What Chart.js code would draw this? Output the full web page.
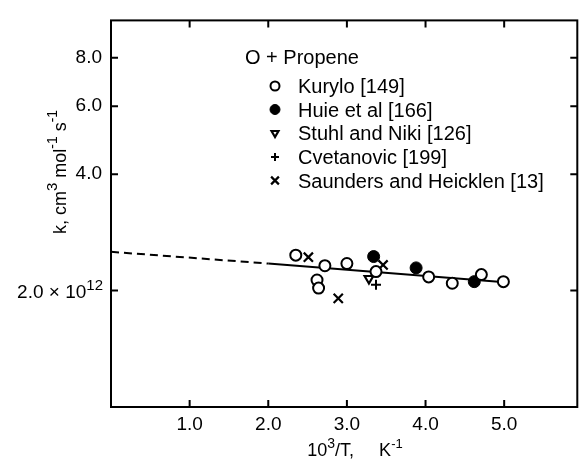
<!DOCTYPE html>
<html>
<head>
<meta charset="utf-8">
<script src="https://cdn.jsdelivr.net/npm/chart.js@4.4.0/dist/chart.umd.min.js"></script>
<style>
  html, body { margin: 0; padding: 0; background: #fff; }
  #wrap { width: 586px; height: 461px; }
</style>
</head>
<body>
<div id="wrap"><canvas id="rateChart" width="586" height="461"></canvas></div>
<script>
// O + propene rate constants: x = 10^3/T (K^-1), k in units of 10^12 cm^3 mol^-1 s^-1
const kuryloX = [2.35, 2.72, 3.00, 2.62, 2.64, 3.37, 4.04, 4.34, 4.71, 4.99];
const kuryloK = [2.47, 2.32, 2.35, 2.13, 2.03, 2.24, 2.17, 2.09, 2.20, 2.11];
const huieX = [3.34, 3.88, 4.62];
const huieK = [2.45, 2.29, 2.11];
const stuhlX = [3.28];
const stuhlK = [2.15];
const cvetX = [3.37];
const cvetK = [2.07];
const saundersX = [2.51, 2.89, 3.46];
const saundersK = [2.44, 1.91, 2.33];

// Arrhenius fit: dashed extrapolation below 2.0, solid over the data
const fitX = [0, 2.0, 5.05];
const fitK = [2.52, 2.35, 2.10];

const xTicks = [1, 2, 3, 4, 5];
const yTicks = [2, 4, 6, 8];
const xMin = 0, xMax = 5.93;
const yMin = 1, yMax = 10;

const FONT = "'Liberation Sans', Arial, sans-serif";

const pts = (xs, ks) => xs.map((v, i) => ({ x: v, y: ks[i] }));

const sources = [
  { label: 'Kurylo [149]', data: pts(kuryloX, kuryloK), pointStyle: 'circle', pointRadius: 5.5,
    pointBorderWidth: 2, pointBackgroundColor: '#fff' },
  { label: 'Huie et al [166]', data: pts(huieX, huieK), pointStyle: 'circle', pointRadius: 6,
    pointBorderWidth: 1, pointBackgroundColor: '#000' },
  { label: 'Stuhl and Niki [126]', data: pts(stuhlX, stuhlK), pointStyle: 'triangle', pointRadius: 5,
    pointRotation: 180, pointBorderWidth: 2.2, pointBackgroundColor: '#fff' },
  { label: 'Cvetanovic [199]', data: pts(cvetX, cvetK), pointStyle: 'cross', pointRadius: 5,
    pointBorderWidth: 2, pointBackgroundColor: '#000' },
  { label: 'Saunders and Heicklen [13]', data: pts(saundersX, saundersK), pointStyle: 'crossRot', pointRadius: 6.5,
    pointBorderWidth: 2.2, pointBackgroundColor: '#000' }
];

sources.forEach(s => {
  s.showLine = false;
  s.borderColor = '#000';
  s.pointBorderColor = '#000';
  s.order = 0;
});

const fitLines = [
  { label: 'fit (extrapolated)', data: pts(fitX.slice(0, 2), fitK.slice(0, 2)), showLine: true,
    borderColor: '#000', borderWidth: 2, borderDash: [8, 5], pointRadius: 0, order: 10 },
  { label: 'fit', data: pts(fitX.slice(1), fitK.slice(1)), showLine: true,
    borderColor: '#000', borderWidth: 2, pointRadius: 0, order: 10 }
];

// lay out a line of text made of runs with their own size and baseline shift
function drawRuns(ctx, runs, x, baseline, align) {
  let total = 0;
  runs.forEach(r => {
    ctx.font = r.s + 'px ' + FONT;
    r.w = ctx.measureText(r.t).width;
    total += r.w;
  });
  if (align === 'right') x -= total;
  else if (align !== 'left') x -= total / 2;
  ctx.textAlign = 'left';
  ctx.textBaseline = 'alphabetic';
  runs.forEach(r => {
    ctx.font = r.s + 'px ' + FONT;
    ctx.fillText(r.t, x, baseline + (r.dy || 0));
    x += r.w;
  });
}

// box round the plot with inward tick marks on all four sides
const frameTicks = {
  id: 'frameTicks',
  beforeDatasetsDraw(chart) {
    const { ctx, chartArea: a, scales: { x, y } } = chart;
    const len = 7;
    ctx.save();
    ctx.strokeStyle = '#000';
    ctx.lineWidth = 2;
    ctx.strokeRect(a.left, a.top, a.right - a.left, a.bottom - a.top);
    ctx.beginPath();
    xTicks.forEach(v => {
      const px = x.getPixelForValue(v);
      ctx.moveTo(px, a.bottom); ctx.lineTo(px, a.bottom - len);
      ctx.moveTo(px, a.top); ctx.lineTo(px, a.top + len);
    });
    yTicks.forEach(v => {
      const py = y.getPixelForValue(v);
      ctx.moveTo(a.left, py); ctx.lineTo(a.left + len, py);
      ctx.moveTo(a.right, py); ctx.lineTo(a.right - len, py);
    });
    ctx.stroke();
    ctx.restore();
  }
};

// axis titles, the 2.0 x 10^12 tick label and the key inside the plot
const labels = {
  id: 'labels',
  afterDraw(chart) {
    const { ctx, chartArea: a, scales: { y } } = chart;
    ctx.save();
    ctx.fillStyle = '#000';

    drawRuns(ctx, [
      { t: '2.0 \u00d7 10', s: 19 }, { t: '12', s: 15, dy: -8 }
    ], a.left - 8, y.getPixelForValue(2) + 7, 'right');

    drawRuns(ctx, [
      { t: '10', s: 18 }, { t: '3', s: 14, dy: -8 }, { t: '/T,     K', s: 18 }, { t: '-1', s: 13, dy: -8 }
    ], 355, 456);

    ctx.translate(66, 172);
    ctx.rotate(-Math.PI / 2);
    drawRuns(ctx, [
      { t: 'k, cm', s: 18 }, { t: '3', s: 15, dy: -9 }, { t: ' mol', s: 18 }, { t: '-1', s: 14, dy: -9 },
      { t: ' s', s: 18 }, { t: '-1', s: 14, dy: -9 }
    ], 0, 0);
    ctx.setTransform(1, 0, 0, 1, 0, 0);

    ctx.font = '20px ' + FONT;
    ctx.textAlign = 'left';
    ctx.textBaseline = 'alphabetic';
    ctx.fillText('O + Propene', 245, 64);

    const rowY = [86, 109.5, 133, 157, 180.5];
    sources.forEach((s, i) => {
      ctx.fillStyle = s.pointBackgroundColor;
      ctx.strokeStyle = '#000';
      ctx.lineWidth = s.pointBorderWidth;
      Chart.helpers.drawPoint(ctx, {
        pointStyle: s.pointStyle,
        radius: s.pointRadius - 1,
        rotation: s.pointRotation || 0,
        borderWidth: s.pointBorderWidth
      }, 275, rowY[i]);
      ctx.fillStyle = '#000';
      ctx.font = '20px ' + FONT;
      ctx.fillText(s.label, 298, rowY[i] + 7);
    });
    ctx.restore();
  }
};

new Chart(document.getElementById('rateChart'), {
  type: 'scatter',
  data: { datasets: [...fitLines, ...sources] },
  options: {
    responsive: false,
    animation: false,
    layout: { padding: { top: 13, right: 3, left: 0, bottom: 0 } },
    plugins: { legend: { display: false }, tooltip: { enabled: false } },
    scales: {
      x: {
        type: 'linear',
        min: xMin,
        max: xMax,
        grid: { display: false, drawTicks: false },
        border: { display: false },
        afterFit: s => { s.height = 54; },
        afterBuildTicks: s => { s.ticks = xTicks.map(v => ({ value: v })); },
        ticks: {
          padding: 6,
          color: '#000',
          font: { family: FONT, size: 19 },
          callback: v => v.toFixed(1)
        }
      },
      y: {
        type: 'logarithmic',
        min: yMin,
        max: yMax,
        grid: { display: false, drawTicks: false },
        border: { display: false },
        afterFit: s => { s.width = 111; },
        afterBuildTicks: s => { s.ticks = yTicks.map(v => ({ value: v })); },
        ticks: {
          padding: 9,
          color: '#000',
          font: { family: FONT, size: 19 },
          // 2.0 x 10^12 is drawn by the labels plugin with a real superscript
          callback: v => v === 2 ? '' : v.toFixed(1)
        }
      }
    }
  },
  plugins: [frameTicks, labels]
});
</script>
</body>
</html>
